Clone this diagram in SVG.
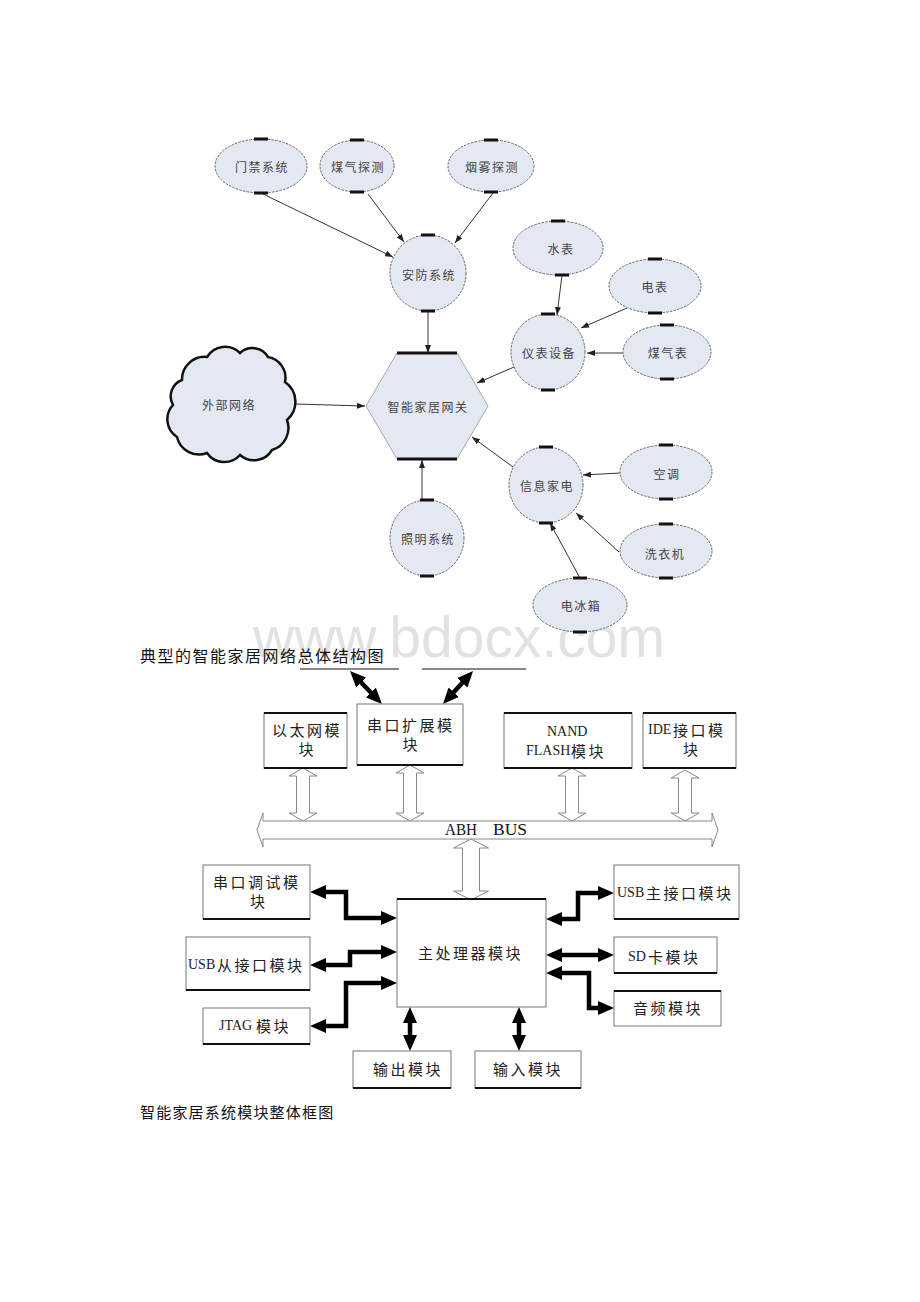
<svg xmlns="http://www.w3.org/2000/svg" width="920" height="1302" viewBox="0 0 920 1302">
<style>
.ell{fill:#e3e8f2;stroke:#666;stroke-width:1;stroke-dasharray:2.5 1.2}
.mk{fill:#111}
.t1{font-family:"Noto Sans CJK SC",sans-serif;font-size:12px;fill:#444;letter-spacing:1.5px;text-anchor:middle;dominant-baseline:central}
.thin{stroke:#333;stroke-width:1;fill:none;marker-end:url(#ah)}
.box{fill:#fff;stroke:#777;stroke-width:1}
.bl{stroke:#111;stroke-width:2}
.t2{font-family:"Noto Sans CJK SC",sans-serif;font-size:15px;fill:#222;letter-spacing:2.5px;dominant-baseline:central}
.lat{font-family:"Liberation Serif",serif;font-size:14px;letter-spacing:0}
.hol{fill:#fff;stroke:#888;stroke-width:1}
.thick{stroke:#000;stroke-width:4.5;fill:none;stroke-linejoin:miter;marker-start:url(#big);marker-end:url(#big)}
.cap{font-family:"Noto Sans CJK SC",sans-serif;fill:#111;dominant-baseline:central}
</style>
<defs>
<marker id="ah" viewBox="0 0 8 6" markerWidth="8" markerHeight="6" refX="8" refY="3" orient="auto" markerUnits="userSpaceOnUse"><path d="M0,0 L8,3 L0,6 z" fill="#222"/></marker>
<marker id="big" viewBox="0 0 16 14" markerWidth="16" markerHeight="14" refX="10" refY="7" orient="auto-start-reverse" markerUnits="userSpaceOnUse"><path d="M0,0 L16,7 L0,14 z" fill="#000"/></marker>
</defs>
<rect width="920" height="1302" fill="#fff"/>

<text x="253" y="657" font-family="Liberation Sans, sans-serif" font-size="58" fill="#e2e2e2" textLength="412" lengthAdjust="spacingAndGlyphs">www.bdocx.com</text>

<g id="connectors">
<path class="thin" d="M263,194 L393,257"/>
<path class="thin" d="M368,194 L404,242"/>
<path class="thin" d="M493,193 L455,243"/>
<path class="thin" d="M428,311 L428,353"/>
<path class="thin" d="M295,404 L365,406"/>
<path class="thin" d="M562,275 L557,315"/>
<path class="thin" d="M627,308 L581,328"/>
<path class="thin" d="M623,353 L587,353"/>
<path class="thin" d="M514,367 L477,383"/>
<path class="thin" d="M513,467 L472,437"/>
<path class="thin" d="M422,500 L422,460"/>
<path class="thin" d="M620,473 L583,475"/>
<path class="thin" d="M619,552 L576,513"/>
<path class="thin" d="M580,578 L550,523"/>

<path class="thick" d="M354.2,675.3 L377.8,699.7"/>
<path class="thick" d="M469,675.4 L447,699.6"/>
<polygon class="hol" points="303,768 317,776 309.5,776 309.5,813 317,813 303,821 289,813 296.5,813 296.5,776 289,776"/>
<polygon class="hol" points="410,765 424,773 416.5,773 416.5,813 424,813 410,821 396,813 403.5,813 403.5,773 396,773"/>
<polygon class="hol" points="572,768 586,776 578.5,776 578.5,813 586,813 572,821 558,813 565.5,813 565.5,776 558,776"/>
<polygon class="hol" points="685,770 699,778 691.5,778 691.5,813 699,813 685,821 671,813 678.5,813 678.5,778 671,778"/>
<polygon class="hol" points="257,830 263,813 263,821 712,821 712,813 718,830 712,847 712,839 263,839 263,847"/>
<polygon class="hol" points="471,839 488.5,848 479.5,848 479.5,891 488.5,891 471,900 453.5,891 462.5,891 462.5,848 453.5,848"/>
<path class="thick" d="M316,892 H346 V918 H391"/>
<path class="thick" d="M316,965 H350 V952 H391"/>
<path class="thick" d="M316,1026 H346 V983 H391"/>
<path class="thick" d="M410,1013 V1045"/>
<path class="thick" d="M519,1013 V1045"/>
<path class="thick" d="M552,919 H578 V893 H608"/>
<path class="thick" d="M552,955 H608"/>
<path class="thick" d="M552,973 H589 V1008 H608"/>
</g>

<g id="n-menjin"><ellipse class="ell" cx="261" cy="166" rx="46" ry="27"/><rect class="mk" x="254" y="137.5" width="14" height="3"/><rect class="mk" x="254" y="191.5" width="14" height="3"/><text class="t1" x="262" y="166">门禁系统</text></g>
<g id="n-meiqitance"><ellipse class="ell" cx="357" cy="166" rx="37" ry="26"/><rect class="mk" x="350" y="138.5" width="14" height="3"/><rect class="mk" x="350" y="190.5" width="14" height="3"/><text class="t1" x="358" y="166">煤气探测</text></g>
<g id="n-yanwu"><ellipse class="ell" cx="491" cy="166" rx="43" ry="26"/><rect class="mk" x="484" y="138.5" width="14" height="3"/><rect class="mk" x="484" y="190.5" width="14" height="3"/><text class="t1" x="492" y="166">烟雾探测</text></g>
<g id="n-anfang"><ellipse class="ell" cx="428" cy="273" rx="38" ry="38"/><rect class="mk" x="421" y="233.5" width="14" height="3"/><rect class="mk" x="421" y="309.5" width="14" height="3"/><text class="t1" x="429" y="274">安防系统</text></g>
<g id="n-shuibiao"><ellipse class="ell" cx="558" cy="248" rx="45" ry="27"/><rect class="mk" x="551" y="219.5" width="14" height="3"/><rect class="mk" x="555" y="273.5" width="14" height="3"/><text class="t1" x="561" y="248">水表</text></g>
<g id="n-dianbiao"><ellipse class="ell" cx="655" cy="286" rx="46" ry="27"/><rect class="mk" x="648" y="257.5" width="14" height="3"/><rect class="mk" x="648" y="311.5" width="14" height="3"/><text class="t1" x="655" y="286">电表</text></g>
<g id="n-yibiao"><ellipse class="ell" cx="548" cy="352" rx="37" ry="38"/><rect class="mk" x="541" y="312.5" width="14" height="3"/><rect class="mk" x="541" y="388.5" width="14" height="3"/><text class="t1" x="549" y="352">仪表设备</text></g>
<g id="n-meiqibiao"><ellipse class="ell" cx="667" cy="352" rx="44" ry="27"/><rect class="mk" x="660" y="323.5" width="14" height="3"/><rect class="mk" x="660" y="377.5" width="14" height="3"/><text class="t1" x="668" y="352">煤气表</text></g>
<g id="n-cloud"><path d="M182,380 A22.5,22.5 0 0 1 207,357 A21,21 0 0 1 240,353 A18,18 0 0 1 268,357 A21,21 0 0 1 285,382 A24,24 0 0 1 287,420 A23,23 0 0 1 272,450 A21,21 0 0 1 240,455 A21,21 0 0 1 207,453 A22.5,22.5 0 0 1 177,437 A21,21 0 0 1 173,405 A17.5,17.5 0 0 1 182,380 Z" fill="#e3e8f2" stroke="#111" stroke-width="2.5"/><text class="t1" x="229" y="404">外部网络</text></g>
<g id="n-gateway"><polygon points="397,353 457,353 488,406 457,459 397,459 366,406" fill="#e3e8f2" stroke="#aaa" stroke-width="1"/><path d="M397,353 H457 M397,459 H457" stroke="#111" stroke-width="3"/><text class="t1" x="428" y="406">智能家居网关</text></g>
<g id="n-xinxi"><ellipse class="ell" cx="546" cy="485" rx="37" ry="38"/><rect class="mk" x="539" y="445.5" width="14" height="3"/><rect class="mk" x="539" y="521.5" width="14" height="3"/><text class="t1" x="547" y="485">信息家电</text></g>
<g id="n-kongtiao"><ellipse class="ell" cx="666" cy="472" rx="46" ry="27"/><rect class="mk" x="659" y="443.5" width="14" height="3"/><rect class="mk" x="659" y="497.5" width="14" height="3"/><text class="t1" x="667" y="473">空调</text></g>
<g id="n-xiyiji"><ellipse class="ell" cx="666" cy="551" rx="46" ry="27"/><rect class="mk" x="659" y="522.5" width="14" height="3"/><rect class="mk" x="659" y="576.5" width="14" height="3"/><text class="t1" x="665" y="553">洗衣机</text></g>
<g id="n-bingxiang"><ellipse class="ell" cx="580" cy="605" rx="47" ry="27"/><rect class="mk" x="573" y="576.5" width="14" height="3"/><rect class="mk" x="573" y="630.5" width="14" height="3"/><text class="t1" x="581" y="605">电冰箱</text></g>
<g id="n-zhaoming"><ellipse class="ell" cx="427" cy="538" rx="37" ry="38"/><rect class="mk" x="420" y="498.5" width="14" height="3"/><rect class="mk" x="420" y="574.5" width="14" height="3"/><text class="t1" x="428" y="538">照明系统</text></g>

<text id="caption1" class="cap" x="140" y="655" font-size="16" letter-spacing="1.5">典型的智能家居网络总体结构图</text>

<g id="toplines"><path d="M300,669 H399 M422,669 H526" stroke="#111" stroke-width="1.2"/></g>

<g id="b-ethernet"><rect class="box" x="264" y="713" width="83" height="55"/><path class="bl" d="M264,713 H347 M264,768 H347"/><text class="t2"><tspan x="272" y="728.5">以太网模</tspan><tspan x="298.5" y="747.5">块</tspan></text></g>
<g id="b-uartext"><rect class="box" x="357" y="704" width="106" height="61"/><path class="bl" d="M357,765 H463"/><text class="t2"><tspan x="367" y="723.5">串口扩展模</tspan><tspan x="402.5" y="742.5">块</tspan></text></g>
<g id="b-nand"><rect class="box" x="504" y="713" width="128" height="55"/><path class="bl" d="M504,713 H632 M504,768 H632"/><text class="t2"><tspan class="lat" x="547" y="731">NAND</tspan><tspan class="lat" x="526" y="750">FLASH</tspan><tspan x="571" y="750">模块</tspan></text></g>
<g id="b-ide"><rect class="box" x="643" y="713" width="93" height="55"/><path class="bl" d="M643,713 H736 M643,768 H736"/><text class="t2"><tspan class="lat" x="648" y="728.5">IDE</tspan><tspan x="673" y="728.5">接口模</tspan><tspan x="683" y="747.5">块</tspan></text></g>

<g id="bus-label"><text x="445" y="834.5" font-family="Liberation Serif, serif" font-size="16" fill="#111" textLength="32" lengthAdjust="spacingAndGlyphs">ABH</text><text x="493" y="834.5" font-family="Liberation Serif, serif" font-size="16" fill="#111" textLength="34" lengthAdjust="spacingAndGlyphs">BUS</text></g>

<g id="b-uartdbg"><rect class="box" x="203" y="865" width="107" height="54"/><path class="bl" d="M203,919 H310"/><text class="t2"><tspan x="213" y="880.5">串口调试模</tspan><tspan x="250" y="899.5">块</tspan></text></g>
<g id="b-usbslave"><rect class="box" x="186" y="937" width="124" height="53"/><path class="bl" d="M186,990 H310"/><text class="t2" y="964"><tspan class="lat" x="188">USB</tspan><tspan x="217">从接口模块</tspan></text></g>
<g id="b-jtag"><rect class="box" x="203" y="1008" width="107" height="36"/><path class="bl" d="M203,1044 H310"/><text class="t2" y="1025"><tspan class="lat" x="219">JTAG</tspan><tspan x="256">模块</tspan></text></g>
<g id="b-cpu"><rect class="box" x="397" y="899" width="149" height="108"/><path class="bl" d="M397,899 H546"/><text class="t2" x="418" y="952">主处理器模块</text></g>
<g id="b-out"><rect class="box" x="353" y="1051" width="98" height="37"/><path class="bl" d="M353,1088 H451"/><text class="t2" x="373" y="1068">输出模块</text></g>
<g id="b-in"><rect class="box" x="475" y="1051" width="106" height="37"/><path class="bl" d="M475,1088 H581"/><text class="t2" x="493" y="1068">输入模块</text></g>
<g id="b-usbhost"><rect class="box" x="614" y="865" width="125" height="54"/><path class="bl" d="M614,919 H739"/><text class="t2" y="892"><tspan class="lat" x="617">USB</tspan><tspan x="646">主接口模块</tspan></text></g>
<g id="b-sd"><rect class="box" x="614" y="937" width="103" height="36"/><path class="bl" d="M614,973 H717"/><text class="t2" y="956"><tspan class="lat" x="628">SD</tspan><tspan x="648">卡模块</tspan></text></g>
<g id="b-audio"><rect class="box" x="614" y="991" width="107" height="35"/><path class="bl" d="M614,991 H721"/><text class="t2" x="633" y="1007">音频模块</text></g>

<text id="caption2" class="cap" x="140" y="1111" font-size="15" letter-spacing="1.2">智能家居系统模块整体框图</text>
</svg>
